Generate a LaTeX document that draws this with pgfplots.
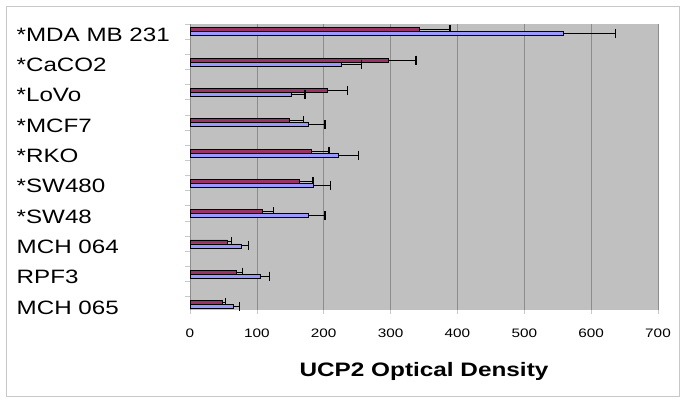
\documentclass[border=0pt]{standalone}
\usepackage{fontspec}
\setmainfont[FakeStretch=1.25]{Liberation Sans}
\usepackage{pgfplots}
\pgfplotsset{compat=1.18}
\definecolor{barpurple}{HTML}{993366}
\definecolor{barblue}{HTML}{9999FF}
\definecolor{plotbg}{HTML}{C0C0C0}
\definecolor{gridgray}{HTML}{8C8C8C}
\definecolor{framegray}{HTML}{C8C8C8}

\begin{document}
\begin{tikzpicture}
\begin{axis}[
  scale only axis,
  width=351pt, height=214.5pt,
  xbar, bar width=3pt,
  xmin=0, xmax=700, ymin=-0.18, ymax=9.26,
  xtick={0,100,...,700},
  ytick={0,...,9},
  yticklabels={MCH 065, RPF3, MCH 064, *SW48, *SW480, *RKO, *MCF7, *LoVo, *CaCO2, *MDA MB 231},
  minor ytick={0.26,0.76,1.26,1.76,2.26,2.76,3.26,3.76,4.26,4.76,5.26,5.76,6.26,6.76,7.26,7.76,8.26,8.76,9.26},
  axis line style={draw=none},
  axis background/.style={fill=plotbg},
  xmajorgrids,
  grid style={gridgray, line width=0.5pt},
  tick align=outside,
  xtick pos=bottom, ytick pos=left,
  major tick length=3pt, minor tick length=3.75pt,
  major y tick style={draw=none},
  minor y tick style={framegray, line width=0.5pt},
  major x tick style={framegray, line width=0.5pt},
  /pgf/number format/assume math mode=true,
  x tick label style={font=\fontsize{9.2}{11}\selectfont, yshift=-7.5pt},
  y tick label style={font=\fontsize{14.5}{16}\selectfont, anchor=west, xshift=-130.5pt, yshift=-2.2pt},
  xlabel={UCP2 Optical Density},
  xlabel style={font=\fontsize{14.6}{16}\selectfont\bfseries,
    at={(axis description cs:0.5,0)}, anchor=center, yshift=-46pt},
]
\coordinate (pl) at (rel axis cs:0,0);
\coordinate (tr) at (rel axis cs:1,1);
% upper bar of each pair
\addplot[fill=barpurple, draw=black, line width=0.6pt, bar shift=1.5pt,
  error bars/.cd, x dir=plus, x explicit,
  error bar style={black, line width=0.8pt},
  error mark=|,
  error mark options={black, line width=0.9pt, mark size=3.4pt}]
  coordinates {
    (343,9) +- (46,0)
    (297,8) +- (41,0)
    (205,7) +- (30,0)
    (149,6) +- (21,0)
    (182,5) +- (26,0)
    (163,4) +- (21,0)
    (109,3) +- (16,0)
    (56,2) +- (6,0)
    (70,1) +- (8,0)
    (49,0) +- (4,0)
  };
% lower bar of each pair
\addplot[fill=barblue, draw=black, line width=0.6pt, bar shift=-1.5pt,
  error bars/.cd, x dir=plus, x explicit,
  error bar style={black, line width=0.8pt},
  error mark=|,
  error mark options={black, line width=0.9pt, mark size=3.4pt}]
  coordinates {
    (559,9) +- (78,0)
    (226,8) +- (30,0)
    (152,7) +- (20,0)
    (177,6) +- (25,0)
    (222,5) +- (30,0)
    (184,4) +- (26,0)
    (177,3) +- (25,0)
    (77,2) +- (11,0)
    (105,1) +- (14,0)
    (65,0) +- (9,0)
  };
\end{axis}
\draw[framegray, line width=0.6pt] ([shift={(-138pt,-64.5pt)}]pl) rectangle ([shift={(15.75pt,13.5pt)}]tr);
\useasboundingbox ([shift={(-142.5pt,-69.75pt)}]pl) rectangle ([shift={(20.25pt,18pt)}]tr);
\end{tikzpicture}
\end{document}
